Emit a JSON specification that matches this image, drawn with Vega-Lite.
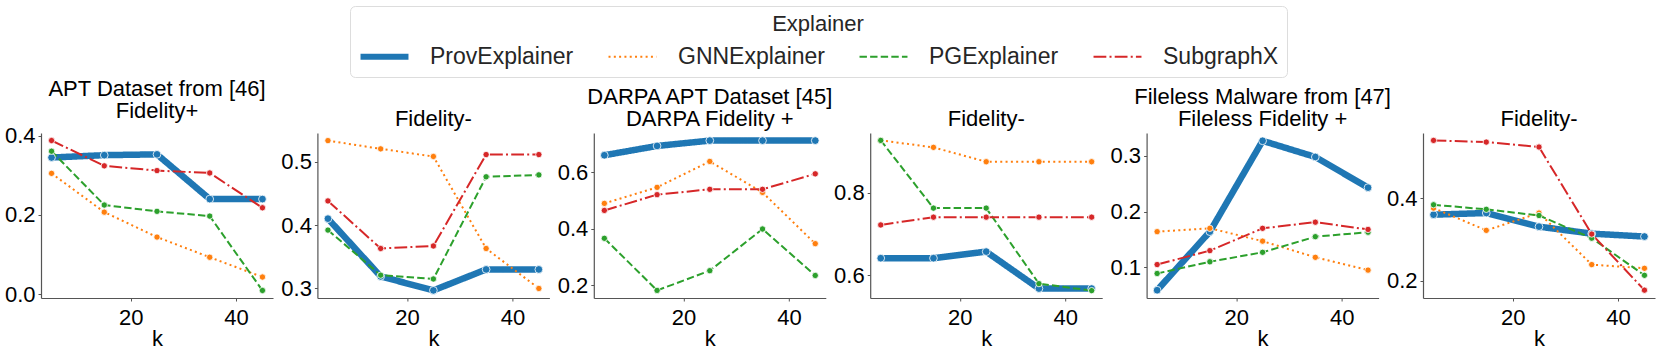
{
  "$schema": "https://vega.github.io/schema/vega-lite/v6.json",
  "padding": {"left": 4, "top": 5, "right": 2, "bottom": 0},
  "bounds": "flush",
  "spacing": 44.4,
  "datasets": {
    "d": [
      {"panel":"p1","Explainer":"ProvExplainer","k":5,"value":0.345},
      {"panel":"p1","Explainer":"ProvExplainer","k":15,"value":0.351},
      {"panel":"p1","Explainer":"ProvExplainer","k":25,"value":0.353},
      {"panel":"p1","Explainer":"ProvExplainer","k":35,"value":0.240},
      {"panel":"p1","Explainer":"ProvExplainer","k":45,"value":0.240},
      {"panel":"p1","Explainer":"GNNExplainer","k":5,"value":0.305},
      {"panel":"p1","Explainer":"GNNExplainer","k":15,"value":0.207},
      {"panel":"p1","Explainer":"GNNExplainer","k":25,"value":0.144},
      {"panel":"p1","Explainer":"GNNExplainer","k":35,"value":0.093},
      {"panel":"p1","Explainer":"GNNExplainer","k":45,"value":0.043},
      {"panel":"p1","Explainer":"PGExplainer","k":5,"value":0.361},
      {"panel":"p1","Explainer":"PGExplainer","k":15,"value":0.225},
      {"panel":"p1","Explainer":"PGExplainer","k":25,"value":0.209},
      {"panel":"p1","Explainer":"PGExplainer","k":35,"value":0.197},
      {"panel":"p1","Explainer":"PGExplainer","k":45,"value":0.009},
      {"panel":"p1","Explainer":"SubgraphX","k":5,"value":0.388},
      {"panel":"p1","Explainer":"SubgraphX","k":15,"value":0.324},
      {"panel":"p1","Explainer":"SubgraphX","k":25,"value":0.312},
      {"panel":"p1","Explainer":"SubgraphX","k":35,"value":0.306},
      {"panel":"p1","Explainer":"SubgraphX","k":45,"value":0.218},

      {"panel":"p2","Explainer":"ProvExplainer","k":5,"value":0.410},
      {"panel":"p2","Explainer":"ProvExplainer","k":15,"value":0.319},
      {"panel":"p2","Explainer":"ProvExplainer","k":25,"value":0.297},
      {"panel":"p2","Explainer":"ProvExplainer","k":35,"value":0.330},
      {"panel":"p2","Explainer":"ProvExplainer","k":45,"value":0.330},
      {"panel":"p2","Explainer":"GNNExplainer","k":5,"value":0.533},
      {"panel":"p2","Explainer":"GNNExplainer","k":15,"value":0.520},
      {"panel":"p2","Explainer":"GNNExplainer","k":25,"value":0.508},
      {"panel":"p2","Explainer":"GNNExplainer","k":35,"value":0.363},
      {"panel":"p2","Explainer":"GNNExplainer","k":45,"value":0.300},
      {"panel":"p2","Explainer":"PGExplainer","k":5,"value":0.392},
      {"panel":"p2","Explainer":"PGExplainer","k":15,"value":0.321},
      {"panel":"p2","Explainer":"PGExplainer","k":25,"value":0.315},
      {"panel":"p2","Explainer":"PGExplainer","k":35,"value":0.476},
      {"panel":"p2","Explainer":"PGExplainer","k":45,"value":0.479},
      {"panel":"p2","Explainer":"SubgraphX","k":5,"value":0.438},
      {"panel":"p2","Explainer":"SubgraphX","k":15,"value":0.363},
      {"panel":"p2","Explainer":"SubgraphX","k":25,"value":0.367},
      {"panel":"p2","Explainer":"SubgraphX","k":35,"value":0.511},
      {"panel":"p2","Explainer":"SubgraphX","k":45,"value":0.511},

      {"panel":"p3","Explainer":"ProvExplainer","k":5,"value":0.661},
      {"panel":"p3","Explainer":"ProvExplainer","k":15,"value":0.694},
      {"panel":"p3","Explainer":"ProvExplainer","k":25,"value":0.713},
      {"panel":"p3","Explainer":"ProvExplainer","k":35,"value":0.713},
      {"panel":"p3","Explainer":"ProvExplainer","k":45,"value":0.713},
      {"panel":"p3","Explainer":"GNNExplainer","k":5,"value":0.490},
      {"panel":"p3","Explainer":"GNNExplainer","k":15,"value":0.547},
      {"panel":"p3","Explainer":"GNNExplainer","k":25,"value":0.639},
      {"panel":"p3","Explainer":"GNNExplainer","k":35,"value":0.529},
      {"panel":"p3","Explainer":"GNNExplainer","k":45,"value":0.347},
      {"panel":"p3","Explainer":"PGExplainer","k":5,"value":0.366},
      {"panel":"p3","Explainer":"PGExplainer","k":15,"value":0.181},
      {"panel":"p3","Explainer":"PGExplainer","k":25,"value":0.251},
      {"panel":"p3","Explainer":"PGExplainer","k":35,"value":0.399},
      {"panel":"p3","Explainer":"PGExplainer","k":45,"value":0.234},
      {"panel":"p3","Explainer":"SubgraphX","k":5,"value":0.465},
      {"panel":"p3","Explainer":"SubgraphX","k":15,"value":0.521},
      {"panel":"p3","Explainer":"SubgraphX","k":25,"value":0.540},
      {"panel":"p3","Explainer":"SubgraphX","k":35,"value":0.540},
      {"panel":"p3","Explainer":"SubgraphX","k":45,"value":0.595},

      {"panel":"p4","Explainer":"ProvExplainer","k":5,"value":0.641},
      {"panel":"p4","Explainer":"ProvExplainer","k":15,"value":0.641},
      {"panel":"p4","Explainer":"ProvExplainer","k":25,"value":0.657},
      {"panel":"p4","Explainer":"ProvExplainer","k":35,"value":0.567},
      {"panel":"p4","Explainer":"ProvExplainer","k":45,"value":0.567},
      {"panel":"p4","Explainer":"GNNExplainer","k":5,"value":0.928},
      {"panel":"p4","Explainer":"GNNExplainer","k":15,"value":0.911},
      {"panel":"p4","Explainer":"GNNExplainer","k":25,"value":0.876},
      {"panel":"p4","Explainer":"GNNExplainer","k":35,"value":0.876},
      {"panel":"p4","Explainer":"GNNExplainer","k":45,"value":0.876},
      {"panel":"p4","Explainer":"PGExplainer","k":5,"value":0.928},
      {"panel":"p4","Explainer":"PGExplainer","k":15,"value":0.763},
      {"panel":"p4","Explainer":"PGExplainer","k":25,"value":0.763},
      {"panel":"p4","Explainer":"PGExplainer","k":35,"value":0.579},
      {"panel":"p4","Explainer":"PGExplainer","k":45,"value":0.562},
      {"panel":"p4","Explainer":"SubgraphX","k":5,"value":0.722},
      {"panel":"p4","Explainer":"SubgraphX","k":15,"value":0.741},
      {"panel":"p4","Explainer":"SubgraphX","k":25,"value":0.741},
      {"panel":"p4","Explainer":"SubgraphX","k":35,"value":0.741},
      {"panel":"p4","Explainer":"SubgraphX","k":45,"value":0.741},

      {"panel":"p5","Explainer":"ProvExplainer","k":5,"value":0.059},
      {"panel":"p5","Explainer":"ProvExplainer","k":15,"value":0.164},
      {"panel":"p5","Explainer":"ProvExplainer","k":25,"value":0.327},
      {"panel":"p5","Explainer":"ProvExplainer","k":35,"value":0.298},
      {"panel":"p5","Explainer":"ProvExplainer","k":45,"value":0.243},
      {"panel":"p5","Explainer":"GNNExplainer","k":5,"value":0.164},
      {"panel":"p5","Explainer":"GNNExplainer","k":15,"value":0.170},
      {"panel":"p5","Explainer":"GNNExplainer","k":25,"value":0.147},
      {"panel":"p5","Explainer":"GNNExplainer","k":35,"value":0.118},
      {"panel":"p5","Explainer":"GNNExplainer","k":45,"value":0.095},
      {"panel":"p5","Explainer":"PGExplainer","k":5,"value":0.089},
      {"panel":"p5","Explainer":"PGExplainer","k":15,"value":0.110},
      {"panel":"p5","Explainer":"PGExplainer","k":25,"value":0.127},
      {"panel":"p5","Explainer":"PGExplainer","k":35,"value":0.155},
      {"panel":"p5","Explainer":"PGExplainer","k":45,"value":0.163},
      {"panel":"p5","Explainer":"SubgraphX","k":5,"value":0.105},
      {"panel":"p5","Explainer":"SubgraphX","k":15,"value":0.130},
      {"panel":"p5","Explainer":"SubgraphX","k":25,"value":0.170},
      {"panel":"p5","Explainer":"SubgraphX","k":35,"value":0.181},
      {"panel":"p5","Explainer":"SubgraphX","k":45,"value":0.168},

      {"panel":"p6","Explainer":"ProvExplainer","k":5,"value":0.360},
      {"panel":"p6","Explainer":"ProvExplainer","k":15,"value":0.364},
      {"panel":"p6","Explainer":"ProvExplainer","k":25,"value":0.331},
      {"panel":"p6","Explainer":"ProvExplainer","k":35,"value":0.314},
      {"panel":"p6","Explainer":"ProvExplainer","k":45,"value":0.307},
      {"panel":"p6","Explainer":"GNNExplainer","k":5,"value":0.376},
      {"panel":"p6","Explainer":"GNNExplainer","k":15,"value":0.322},
      {"panel":"p6","Explainer":"GNNExplainer","k":25,"value":0.364},
      {"panel":"p6","Explainer":"GNNExplainer","k":35,"value":0.239},
      {"panel":"p6","Explainer":"GNNExplainer","k":45,"value":0.230},
      {"panel":"p6","Explainer":"PGExplainer","k":5,"value":0.384},
      {"panel":"p6","Explainer":"PGExplainer","k":15,"value":0.373},
      {"panel":"p6","Explainer":"PGExplainer","k":25,"value":0.358},
      {"panel":"p6","Explainer":"PGExplainer","k":35,"value":0.303},
      {"panel":"p6","Explainer":"PGExplainer","k":45,"value":0.213},
      {"panel":"p6","Explainer":"SubgraphX","k":5,"value":0.540},
      {"panel":"p6","Explainer":"SubgraphX","k":15,"value":0.536},
      {"panel":"p6","Explainer":"SubgraphX","k":25,"value":0.524},
      {"panel":"p6","Explainer":"SubgraphX","k":35,"value":0.313},
      {"panel":"p6","Explainer":"SubgraphX","k":45,"value":0.177}
    ]
  },
  "data": {"name": "d"},
  "hconcat": [
    {
      "title": {"text": ["APT Dataset from [46]", "Fidelity+"]},
      "width": 232, "height": 165,
      "transform": [{"filter": "datum.panel == 'p1'"}],
      "encoding": {
        "x": {"field": "k", "type": "quantitative", "scale": {"domain": [3, 47], "nice": false}, "axis": {"values": [20, 40], "title": "k"}},
        "y": {"field": "value", "type": "quantitative", "scale": {"domain": [-0.010, 0.407], "nice": false, "zero": false}, "axis": {"values": [0, 0.2, 0.4], "format": ".1f", "title": null}}
      },
      "layer": [
        {"mark": {"type": "line", "strokeJoin": "round"},
         "encoding": {
           "color": {"field": "Explainer", "type": "nominal", "scale": {"domain": ["ProvExplainer", "GNNExplainer", "PGExplainer", "SubgraphX"], "range": ["#1f77b4", "#ff7f0e", "#2ca02c", "#d62728"]}, "legend": {"orient": "none", "legendX": 309, "legendY": -127, "direction": "horizontal", "columns": 4, "symbolType": "stroke", "symbolSize": 2300, "symbolOffset": 15, "encode": {"symbols": {"update": {"strokeWidth": {"signal": "datum.value === 'ProvExplainer' ? 6 : 2"}}}}}},
           "strokeDash": {"field": "Explainer", "type": "nominal", "scale": {"domain": ["ProvExplainer", "GNNExplainer", "PGExplainer", "SubgraphX"], "range": [[1, 0], [2, 3.3], [7.4, 3.2], [12.8, 3.2, 2, 3.2]]}, "legend": {"orient": "none", "legendX": 309, "legendY": -127, "direction": "horizontal", "columns": 4, "symbolType": "stroke", "symbolSize": 2300, "symbolOffset": 15, "encode": {"symbols": {"update": {"strokeWidth": {"signal": "datum.value === 'ProvExplainer' ? 6 : 2"}}}}}},
           "strokeWidth": {"condition": {"test": "datum.Explainer == 'ProvExplainer'", "value": 6.5}, "value": 2}
         }},
        {"mark": {"type": "point", "filled": true, "opacity": 1, "stroke": "white", "strokeWidth": 0.8},
         "encoding": {
           "color": {"field": "Explainer", "type": "nominal", "legend": null},
           "size": {"condition": {"test": "datum.Explainer == 'ProvExplainer'", "value": 60}, "value": 40}
         }}
      ]
    },
    {
      "title": {"text": "Fidelity-"},
      "width": 232, "height": 165,
      "transform": [{"filter": "datum.panel == 'p2'"}],
      "encoding": {
        "x": {"field": "k", "type": "quantitative", "scale": {"domain": [3, 47], "nice": false}, "axis": {"values": [20, 40], "title": "k"}},
        "y": {"field": "value", "type": "quantitative", "scale": {"domain": [0.285, 0.545], "nice": false, "zero": false}, "axis": {"values": [0.3, 0.4, 0.5], "format": ".1f", "title": null}}
      },
      "layer": [
        {"mark": {"type": "line", "strokeJoin": "round"},
         "encoding": {
           "color": {"field": "Explainer", "type": "nominal"},
           "strokeDash": {"field": "Explainer", "type": "nominal"},
           "strokeWidth": {"condition": {"test": "datum.Explainer == 'ProvExplainer'", "value": 6.5}, "value": 2}
         }},
        {"mark": {"type": "point", "filled": true, "opacity": 1, "stroke": "white", "strokeWidth": 0.8},
         "encoding": {
           "color": {"field": "Explainer", "type": "nominal", "legend": null},
           "size": {"condition": {"test": "datum.Explainer == 'ProvExplainer'", "value": 60}, "value": 40}
         }}
      ]
    },
    {
      "title": {"text": ["DARPA APT Dataset [45]", "DARPA Fidelity +"]},
      "width": 232, "height": 165,
      "transform": [{"filter": "datum.panel == 'p3'"}],
      "encoding": {
        "x": {"field": "k", "type": "quantitative", "scale": {"domain": [3, 47], "nice": false}, "axis": {"values": [20, 40], "title": "k"}},
        "y": {"field": "value", "type": "quantitative", "scale": {"domain": [0.154, 0.740], "nice": false, "zero": false}, "axis": {"values": [0.2, 0.4, 0.6], "format": ".1f", "title": null}}
      },
      "layer": [
        {"mark": {"type": "line", "strokeJoin": "round"},
         "encoding": {
           "color": {"field": "Explainer", "type": "nominal"},
           "strokeDash": {"field": "Explainer", "type": "nominal"},
           "strokeWidth": {"condition": {"test": "datum.Explainer == 'ProvExplainer'", "value": 6.5}, "value": 2}
         }},
        {"mark": {"type": "point", "filled": true, "opacity": 1, "stroke": "white", "strokeWidth": 0.8},
         "encoding": {
           "color": {"field": "Explainer", "type": "nominal", "legend": null},
           "size": {"condition": {"test": "datum.Explainer == 'ProvExplainer'", "value": 60}, "value": 40}
         }}
      ]
    },
    {
      "title": {"text": "Fidelity-"},
      "width": 232, "height": 165,
      "transform": [{"filter": "datum.panel == 'p4'"}],
      "encoding": {
        "x": {"field": "k", "type": "quantitative", "scale": {"domain": [3, 47], "nice": false}, "axis": {"values": [20, 40], "title": "k"}},
        "y": {"field": "value", "type": "quantitative", "scale": {"domain": [0.544, 0.946], "nice": false, "zero": false}, "axis": {"values": [0.6, 0.8], "format": ".1f", "title": null}}
      },
      "layer": [
        {"mark": {"type": "line", "strokeJoin": "round"},
         "encoding": {
           "color": {"field": "Explainer", "type": "nominal"},
           "strokeDash": {"field": "Explainer", "type": "nominal"},
           "strokeWidth": {"condition": {"test": "datum.Explainer == 'ProvExplainer'", "value": 6.5}, "value": 2}
         }},
        {"mark": {"type": "point", "filled": true, "opacity": 1, "stroke": "white", "strokeWidth": 0.8},
         "encoding": {
           "color": {"field": "Explainer", "type": "nominal", "legend": null},
           "size": {"condition": {"test": "datum.Explainer == 'ProvExplainer'", "value": 60}, "value": 40}
         }}
      ]
    },
    {
      "title": {"text": ["Fileless Malware from [47]", "Fileless Fidelity +"]},
      "width": 232, "height": 165,
      "transform": [{"filter": "datum.panel == 'p5'"}],
      "encoding": {
        "x": {"field": "k", "type": "quantitative", "scale": {"domain": [3, 47], "nice": false}, "axis": {"values": [20, 40], "title": "k"}},
        "y": {"field": "value", "type": "quantitative", "scale": {"domain": [0.045, 0.341], "nice": false, "zero": false}, "axis": {"values": [0.1, 0.2, 0.3], "format": ".1f", "title": null}}
      },
      "layer": [
        {"mark": {"type": "line", "strokeJoin": "round"},
         "encoding": {
           "color": {"field": "Explainer", "type": "nominal"},
           "strokeDash": {"field": "Explainer", "type": "nominal"},
           "strokeWidth": {"condition": {"test": "datum.Explainer == 'ProvExplainer'", "value": 6.5}, "value": 2}
         }},
        {"mark": {"type": "point", "filled": true, "opacity": 1, "stroke": "white", "strokeWidth": 0.8},
         "encoding": {
           "color": {"field": "Explainer", "type": "nominal", "legend": null},
           "size": {"condition": {"test": "datum.Explainer == 'ProvExplainer'", "value": 60}, "value": 40}
         }}
      ]
    },
    {
      "title": {"text": "Fidelity-"},
      "width": 232, "height": 165,
      "transform": [{"filter": "datum.panel == 'p6'"}],
      "encoding": {
        "x": {"field": "k", "type": "quantitative", "scale": {"domain": [3, 47], "nice": false}, "axis": {"values": [20, 40], "title": "k"}},
        "y": {"field": "value", "type": "quantitative", "scale": {"domain": [0.158, 0.558], "nice": false, "zero": false}, "axis": {"values": [0.2, 0.4], "format": ".1f", "title": null}}
      },
      "layer": [
        {"mark": {"type": "line", "strokeJoin": "round"},
         "encoding": {
           "color": {"field": "Explainer", "type": "nominal"},
           "strokeDash": {"field": "Explainer", "type": "nominal"},
           "strokeWidth": {"condition": {"test": "datum.Explainer == 'ProvExplainer'", "value": 6.5}, "value": 2}
         }},
        {"mark": {"type": "point", "filled": true, "opacity": 1, "stroke": "white", "strokeWidth": 0.8},
         "encoding": {
           "color": {"field": "Explainer", "type": "nominal", "legend": null},
           "size": {"condition": {"test": "datum.Explainer == 'ProvExplainer'", "value": 60}, "value": 40}
         }}
      ]
    }
  ],
  "config": {
    "font": "Liberation Sans",
    "view": {"stroke": null},
    "axis": {"grid": false, "domainColor": "#555555", "domainWidth": 1.2, "tickColor": "#555555", "tickSize": 3, "labelFontSize": 22, "labelColor": "#000000", "labelPadding": 3, "titleFontSize": 22, "titleFontWeight": "normal", "titleColor": "#000000"},
    "axisX": {"labelPadding": 6, "titlePadding": 0},
    "title": {"fontSize": 22, "fontWeight": "normal", "color": "#000000", "offset": 2, "lineHeight": 22, "anchor": "middle"},
    "legend": {"titleAnchor": "middle", "titleFontSize": 22, "titleFontWeight": "normal", "titleColor": "#262626", "labelFontSize": 23, "labelColor": "#262626", "symbolSize": 2300, "symbolType": "stroke", "labelOffset": 34, "columnPadding": 30, "padding": 8, "fillColor": "white", "strokeColor": "#dddddd", "cornerRadius": 5, "titlePadding": 9}
  }
}
